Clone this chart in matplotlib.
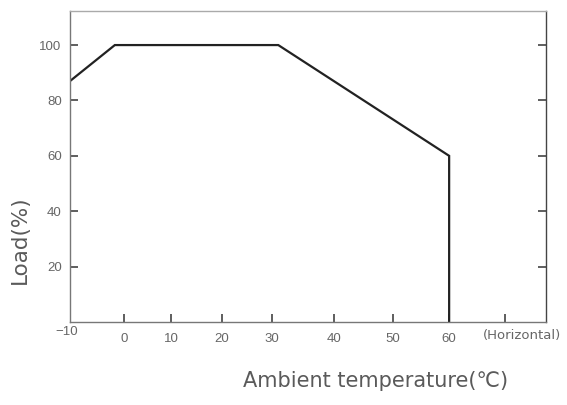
import numpy as np
import matplotlib
matplotlib.use("Agg")
import matplotlib.pyplot as plt

plt.rcParams['font.family'] = ['Liberation Sans', 'DejaVu Sans']

# Data
temps = [-10, -1.7, 31, 60, 60]
load = [87, 100, 100, 60, 0]
xticks = [0, 10, 20, 30, 40, 50, 60, 70]
xticklabels = ['0', '10', '20', '30', '40', '50', '60', '']
yticks = [20, 40, 60, 80, 100]

# Irregular axis spacing of the original drawing (temperature -> relative position)
scale_t = np.array([-10, 0, 10, 20, 30, 40, 50, 60, 70, 80], dtype=float)
scale_p = np.array([70, 124, 171, 222, 272, 334, 393, 449, 505, 561], dtype=float)

def fwd(x):
    return np.interp(x, scale_t, scale_p)

def inv(p):
    return np.interp(p, scale_p, scale_t)

fig = plt.figure(figsize=(5.67, 4.05), dpi=100)
ax = fig.add_axes([70/567, 1-322/405, (545.5-70)/567, (322-11)/405])
ax.set_xscale('function', functions=(fwd, inv))

ax.plot(temps, load, color='#222222', lw=1.6, solid_joinstyle='miter')

ax.set_xlim(-10, 77.2)
ax.set_ylim(0, 112.3)
ax.set_xticks(xticks)
ax.set_xticklabels(xticklabels)
ax.set_yticks(yticks)
ax.xaxis.set_minor_locator(matplotlib.ticker.NullLocator())
ax.tick_params(axis='both', direction='in', length=6, width=1.1, color='#333333',
               labelcolor='#666666', labelsize=9.5, pad=6)
ax.tick_params(axis='x', pad=8)
ax.tick_params(axis='y', right=True, labelright=False)

for s in ['left', 'top', 'right', 'bottom']:
    ax.spines[s].set_color('#777777')
    ax.spines[s].set_linewidth(1.0)
ax.spines['top'].set_color('#aaaaaa')
ax.spines['right'].set_color('#444444')

fig.text(67/567, 1-332/405, '−10', ha='center', va='center', fontsize=9.5, color='#666666')
fig.text(561/567, 1-336/405, '(Horizontal)', ha='right', va='center',
         fontsize=9.5, color='#666666', family=['DejaVu Sans'])

fig.text(20/567, 1-240/405, 'Load(%)', rotation=90, ha='center', va='center',
         fontsize=15.5, color='#5a5a5a', family=['DejaVu Sans'])
fig.text(376/567, 1-381/405, 'Ambient temperature(℃)', ha='center', va='center',
         fontsize=15, color='#5a5a5a', family=['DejaVu Sans'])

fig.savefig('out.png', dpi=100)
